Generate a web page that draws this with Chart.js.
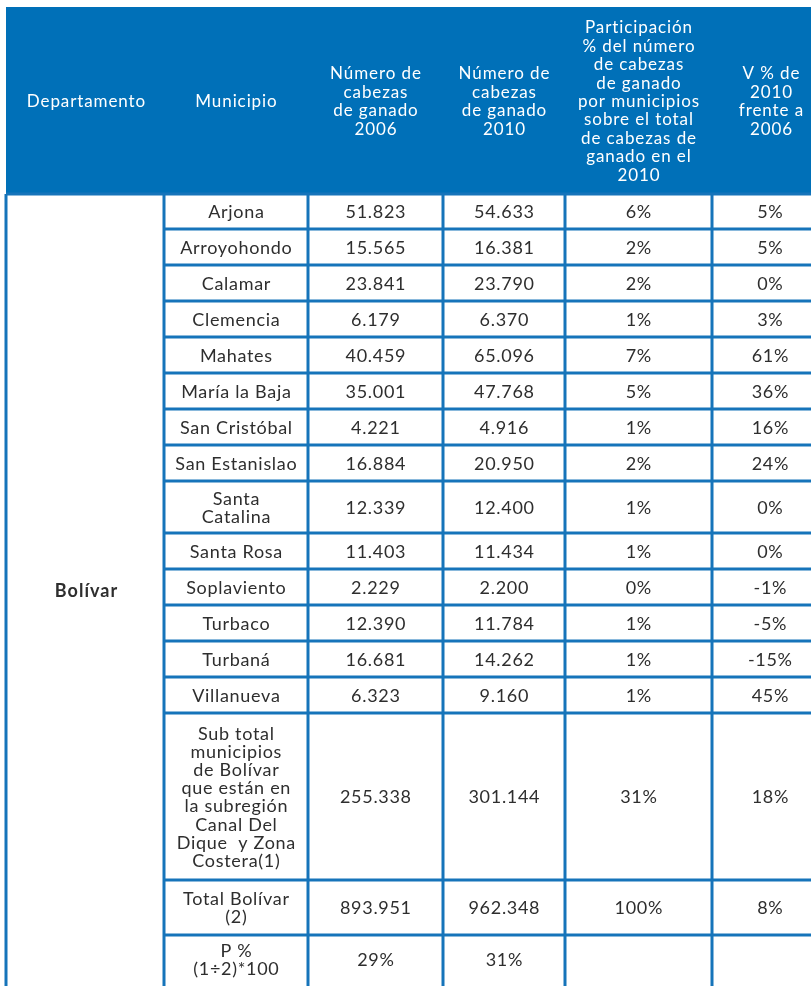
<!DOCTYPE html>
<html lang="es">
<head>
<meta charset="utf-8">
<title>Cabezas de ganado - Bolívar</title>
<script src="https://cdn.jsdelivr.net/npm/chart.js@4.4.1/dist/chart.umd.min.js"></script>
<style>
  html, body { margin: 0; padding: 0; background: #ffffff; }
  canvas { display: block; }
</style>
</head>
<body>
<canvas id="tabla" width="811" height="986"></canvas>
<script>
// datos de la tabla
const departamento = "Bolívar";
const encabezados = [
  ["Departamento"],
  ["Municipio"],
  ["Número de", "cabezas", "de ganado", "2006"],
  ["Número de", "cabezas", "de ganado", "2010"],
  ["Participación", "% del número", "de cabezas", "de ganado", "por municipios", "sobre el total", "de cabezas de", "ganado en el", "2010"],
  ["V % de", "2010", "frente a", "2006"]
];
const municipios = [
  ["Arjona"], ["Arroyohondo"], ["Calamar"], ["Clemencia"], ["Mahates"],
  ["María la Baja"], ["San Cristóbal"], ["San Estanislao"], ["Santa", "Catalina"],
  ["Santa Rosa"], ["Soplaviento"], ["Turbaco"], ["Turbaná"], ["Villanueva"]
];
const cabezas2006 = [51823, 15565, 23841, 6179, 40459, 35001, 4221, 16884, 12339, 11403, 2229, 12390, 16681, 6323];
const cabezas2010 = [54633, 16381, 23790, 6370, 65096, 47768, 4916, 20950, 12400, 11434, 2200, 11784, 14262, 9160];
const participacion2010 = [6, 2, 2, 1, 7, 5, 1, 2, 1, 1, 0, 1, 1, 1];
const variacion = [5, 5, 0, 3, 61, 36, 16, 24, 0, 0, -1, -5, -15, 45];

const subtotalLabel = ["Sub total", "municipios", "de Bolívar", "que están en", "la subregión", "Canal Del", "Dique  y Zona", "Costera(1)"];
const subtotalValores = [255338, 301144, 31, 18];
const totalLabel = ["Total Bolívar", "(2)"];
const totalValores = [893951, 962348, 100, 8];
const pLabel = ["P %", "(1÷2)*100"];
const pValores = [29, 31];

// layout (unidades de las escalas = px de la imagen)
const colEdges = [6, 164, 308, 443, 565, 712, 830];
const rowEdges = [7, 194, 229, 265, 301, 337, 373, 409, 445, 481, 533, 569, 605, 641, 677, 713, 880, 935, 1000];

const AZUL = "#0070b8";
const LINEA = "#1674ba";
const TEXTO = "#2e2e2e";
const FUENTE = "Lato, 'Noto Sans', sans-serif";

function miles(n) {
  const s = String(Math.abs(n));
  const out = s.replace(/\B(?=(\d{3})+(?!\d))/g, ".");
  return (n < 0 ? "-" : "") + out;
}
const pct = v => v + "%";

// filas del cuerpo: etiqueta + 4 celdas
const filas = municipios.map((m, i) => [m, miles(cabezas2006[i]), miles(cabezas2010[i]), pct(participacion2010[i]), pct(variacion[i])]);
filas.push([subtotalLabel, miles(subtotalValores[0]), miles(subtotalValores[1]), pct(subtotalValores[2]), pct(subtotalValores[3])]);
filas.push([totalLabel, miles(totalValores[0]), miles(totalValores[1]), pct(totalValores[2]), pct(totalValores[3])]);
filas.push([pLabel, pct(pValores[0]), pct(pValores[1]), "", ""]);

function texto(ctx, lineas, cx, cy, lh, sp) {
  lineas.forEach((t, k) => {
    // compensa el espacio extra al final que añade letterSpacing
    ctx.fillText(t, cx + sp / 2, cy + (k - (lineas.length - 1) / 2) * lh);
  });
}

const tablaPlugin = {
  id: "tabla",
  afterDraw(chart) {
    const ctx = chart.ctx;
    const xs = chart.scales.x, ys = chart.scales.y;
    const X = v => xs.getPixelForValue(v);
    const Y = v => ys.getPixelForValue(v);

    ctx.save();
    // encabezado
    ctx.fillStyle = AZUL;
    ctx.fillRect(X(colEdges[0]), Y(rowEdges[0]), X(811) - X(colEdges[0]), Y(rowEdges[1]) - Y(rowEdges[0]));

    ctx.fillStyle = "#ffffff";
    ctx.textAlign = "center";
    ctx.textBaseline = "middle";
    ctx.font = "17px " + FUENTE;
    ctx.letterSpacing = "0.9px";
    encabezados.forEach((lineas, c) => {
      const cx = c === 0 ? X(86) : (X(colEdges[c]) + X(colEdges[c + 1])) / 2;
      const cy = (Y(rowEdges[0]) + Y(rowEdges[1])) / 2 + 1;
      texto(ctx, lineas, cx, cy, 18.4, 0.9);
    });

    // lineas de la cuadricula
    ctx.strokeStyle = LINEA;
    ctx.lineWidth = 3;
    ctx.beginPath();
    ctx.moveTo(X(colEdges[0]), Y(rowEdges[1]));
    ctx.lineTo(X(colEdges[0]), Y(1000));
    for (let c = 1; c < colEdges.length - 1; c++) {
      ctx.moveTo(X(colEdges[c]), Y(rowEdges[1]));
      ctx.lineTo(X(colEdges[c]), Y(1000));
    }
    for (let r = 1; r < rowEdges.length - 1; r++) {
      const x0 = r === 1 ? X(colEdges[0]) : X(colEdges[1]);
      ctx.moveTo(x0, Y(rowEdges[r]));
      ctx.lineTo(X(811), Y(rowEdges[r]));
    }
    ctx.stroke();

    // departamento (celda combinada)
    ctx.fillStyle = TEXTO;
    ctx.font = "bold 18px " + FUENTE;
    ctx.letterSpacing = "1px";
    texto(ctx, [departamento], X(86), (Y(rowEdges[1]) + Y(986)) / 2 + 1, 18, 1);

    // celdas del cuerpo
    ctx.font = "18px " + FUENTE;
    ctx.letterSpacing = "0.7px";
    filas.forEach((fila, r) => {
      const y0 = Y(rowEdges[r + 1]), y1 = Y(rowEdges[r + 2]);
      const cy = r === filas.length - 1 ? (y0 + Y(986)) / 2 : (y0 + y1) / 2 + 1;
      fila.forEach((celda, c) => {
        const cx = (X(colEdges[c + 1]) + X(colEdges[c + 2])) / 2 + (c === 4 ? -1 : 0);
        const lineas = Array.isArray(celda) ? celda : [celda];
        texto(ctx, lineas, cx, cy, 18.2, 0.7);
      });
    });
    ctx.restore();
  }
};

new Chart(document.getElementById("tabla"), {
  type: "scatter",
  data: { datasets: [{ data: [] }] },
  options: {
    responsive: false,
    animation: false,
    devicePixelRatio: 1,
    layout: { padding: 0 },
    plugins: { legend: { display: false }, tooltip: { enabled: false } },
    scales: {
      x: { type: "linear", min: 0, max: 811, display: false },
      y: { type: "linear", min: 0, max: 986, reverse: true, display: false }
    }
  },
  plugins: [tablaPlugin]
});
</script>
</body>
</html>
